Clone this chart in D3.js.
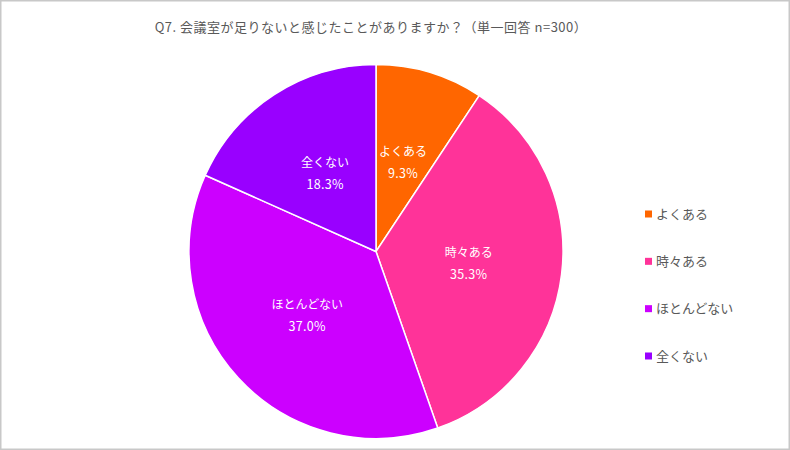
<!DOCTYPE html>
<html>
<head>
<meta charset="utf-8">
<script src="https://cdn.jsdelivr.net/npm/d3@7"></script>
<style>
  html, body { margin: 0; padding: 0; background: #fff; }
  svg { display: block; font-family: "Noto Sans CJK JP", "Noto Sans", sans-serif; }
</style>
</head>
<body>
<div id="chart"></div>
<script>
// データ
const categories = ["よくある", "時々ある", "ほとんどない", "全くない"];
const values = [9.3, 35.3, 37.0, 18.3];
const colors = ["#ff6600", "#ff3399", "#cc00ff", "#9900ff"];
const title = "Q7. 会議室が足りないと感じたことがありますか？（単一回答 n=300）";

const width = 790, height = 450;
const cx = 376, cy = 251.5, radius = 187;

const svg = d3.select("#chart").append("svg")
    .attr("width", width)
    .attr("height", height);

// 外枠
svg.append("rect")
    .attr("x", 0.75).attr("y", 0.75)
    .attr("width", width - 1.5).attr("height", height - 1.5)
    .attr("fill", "#fff")
    .attr("stroke", "#c8c8c8")
    .attr("stroke-width", 1.5);

// タイトル
svg.append("text")
    .attr("x", 371)
    .attr("y", 32)
    .attr("text-anchor", "middle")
    .attr("fill", "#595959")
    .style("font-size", "13px")
    .style("letter-spacing", "0.5px")
    .text(title);

const pie = d3.pie().sort(null).value(d => d);
const arcs = pie(values);
const arc = d3.arc().innerRadius(0).outerRadius(radius);
const labelArc = d3.arc().innerRadius(radius * 0.5).outerRadius(radius * 0.5);

const g = svg.append("g").attr("transform", `translate(${cx},${cy})`);

g.selectAll("path")
    .data(arcs)
    .enter()
    .append("path")
    .attr("d", arc)
    .attr("fill", (d, i) => colors[i])
    .attr("stroke", "#fff")
    .attr("stroke-width", 1.5);

// スライス内ラベル
const labels = g.selectAll(".label")
    .data(arcs)
    .enter()
    .append("text")
    .attr("class", "label")
    .attr("transform", d => `translate(${labelArc.centroid(d)})`)
    .attr("text-anchor", "middle")
    .attr("fill", "#fff")
    .style("font-size", "12px");

labels.append("tspan")
    .attr("x", 0)
    .attr("y", -6)
    .text((d, i) => categories[i]);

labels.append("tspan")
    .attr("x", 0)
    .attr("y", 16)
    .style("font-size", "12.5px")
    .style("letter-spacing", "0.3px")
    .text(d => d.data.toFixed(1) + "%");

// 凡例
const legendY = d3.scalePoint()
    .domain(categories)
    .range([214, 356]);

const legend = svg.selectAll(".legend")
    .data(categories)
    .enter()
    .append("g")
    .attr("class", "legend")
    .attr("transform", d => `translate(645,${legendY(d)})`);

legend.append("rect")
    .attr("x", 0)
    .attr("y", -3.5)
    .attr("width", 7)
    .attr("height", 7)
    .attr("fill", (d, i) => colors[i]);

legend.append("text")
    .attr("x", 11)
    .attr("y", 4.5)
    .attr("fill", "#595959")
    .style("font-size", "13px")
    .text(d => d);
</script>
</body>
</html>
